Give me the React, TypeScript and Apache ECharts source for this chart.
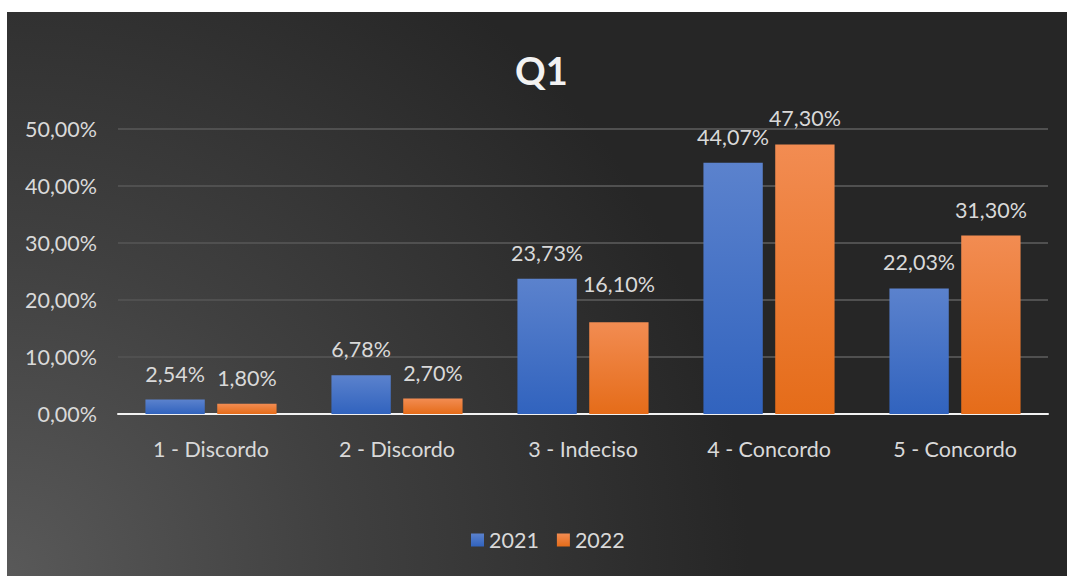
import React, { useEffect, useRef } from "react";
import * as echarts from "echarts";

const categories = ["1 - Discordo", "2 - Discordo", "3 - Indeciso", "4 - Concordo", "5 - Concordo"];
const seriesNames = ["2021", "2022"];
const values2021 = [2.54, 6.78, 23.73, 44.07, 22.03];
const values2022 = [1.8, 2.7, 16.1, 47.3, 31.3];
const yTicks = { min: 0, max: 50, interval: 10 };

const FONT = "Lato, 'Open Sans', sans-serif";
const fmt = (v: number) => v.toFixed(2).replace(".", ",") + "%";

export default function App() {
  const ref = useRef<HTMLDivElement>(null);
  useEffect(() => {
    if (!ref.current) return;
    const chart = echarts.init(ref.current, undefined, { renderer: "svg" });
    const labelBase = {
      show: true,
      position: "top",
      distance: 15,
      color: "#d9d9d9",
      fontSize: 21.5,
      fontFamily: FONT,
      formatter: (p: any) => fmt(p.value),
    };
    chart.setOption({
      animation: false,
      backgroundColor: "transparent",
      textStyle: { fontFamily: FONT },
      title: {
        text: "Q1",
        left: 503,
        top: 34,
        textStyle: { color: "#f2f2f2", fontSize: 38, fontWeight: "bold", fontFamily: FONT },
      },
      legend: {
        data: seriesNames,
        bottom: 20,
        left: 459,
        itemWidth: 13,
        itemHeight: 13,
        itemGap: 18,
        icon: "rect",
        textStyle: { color: "#d9d9d9", fontSize: 21.5, fontFamily: FONT },
      },
      grid: { left: 111, right: 19, top: 117, bottom: 162 },
      xAxis: {
        type: "category",
        data: categories,
        axisLine: { show: true, lineStyle: { color: "#f2f2f2", width: 2 } },
        axisTick: { show: false },
        axisLabel: { color: "#d9d9d9", fontSize: 21.5, margin: 24, fontFamily: FONT },
      },
      yAxis: {
        type: "value",
        min: yTicks.min,
        max: yTicks.max,
        interval: yTicks.interval,
        axisLine: { show: false },
        axisTick: { show: false },
        axisLabel: { color: "#d9d9d9", fontSize: 21.5, margin: 21, fontFamily: FONT, formatter: (v: number) => fmt(v) },
        splitLine: { lineStyle: { color: "#505050", width: 2 } },
      },
      series: [
        {
          name: seriesNames[0],
          type: "bar",
          data: values2021,
          barGap: "21%",
          barCategoryGap: "29.5%",
          itemStyle: {
            color: new echarts.graphic.LinearGradient(0, 0, 0, 1, [
              { offset: 0, color: "#5b82cd" },
              { offset: 1, color: "#3163be" },
            ]),
          },
          label: labelBase,
        },
        {
          name: seriesNames[1],
          type: "bar",
          data: values2022.map((v, i) => (i === 2 ? { value: v, label: { distance: 27 } } : v)),
          itemStyle: {
            color: new echarts.graphic.LinearGradient(0, 0, 0, 1, [
              { offset: 0, color: "#f28c52" },
              { offset: 1, color: "#e56c19" },
            ]),
          },
          label: labelBase,
        },
      ],
    });
    return () => chart.dispose();
  }, []);
  return (
    <div
      style={{
        position: "absolute",
        left: 7,
        top: 12,
        width: 1060,
        height: 564,
        background:
          "radial-gradient(ellipse 70% 130% at 0% 100%, #595959 0%, #404040 45%, #262626 100%)",
      }}
    >
      <div ref={ref} style={{ width: 1060, height: 564 }} />
    </div>
  );
}
